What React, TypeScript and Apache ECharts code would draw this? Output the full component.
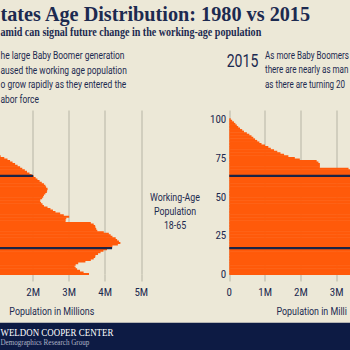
import React, { useEffect, useRef } from "react";
import * as echarts from "echarts";

// Ages 0..100 (single-year bars)
const AGES: number[] = Array.from({ length: 101 }, (_, i) => i);

// Population in millions, 1980, by single year of age (0..100)
const POP_1980: number[] = [
  3.55, 3.40, 3.30, 3.22, 3.18, 3.15, 3.18, 3.25, 3.45, 3.60,
  3.68, 3.72, 3.73, 3.80, 3.87, 3.95, 4.05, 4.15, 4.20, 4.35,
  4.42, 4.38, 4.33, 4.29, 4.20, 4.15, 4.10, 3.96, 3.78, 3.75,
  3.73, 3.72, 3.68, 3.60, 2.90, 2.90, 2.92, 3.00, 2.85, 2.75,
  2.62, 2.55, 2.48, 2.40, 2.30, 2.26, 2.22, 2.19, 2.20, 2.25,
  2.28, 2.30, 2.34, 2.38, 2.39, 2.40, 2.36, 2.34, 2.30, 2.24,
  2.18, 2.12, 2.07, 2.02, 1.96, 1.90, 1.83, 1.77, 1.70, 1.64,
  1.57, 1.50, 1.43, 1.36, 1.29, 1.20, 1.10, 1.00, 0.95, 0.88,
  0.80, 0.72, 0.65, 0.57, 0.50, 0.42, 0.36, 0.30, 0.25, 0.20,
  0.16, 0.13, 0.10, 0.08, 0.06, 0.05, 0.04, 0.03, 0.02, 0.015, 0.01,
];

// Population in millions, 2015, by single year of age (0..100)
const POP_2015: number[] = [
  3.98, 3.96, 3.97, 4.00, 4.03, 4.05, 4.07, 4.11, 4.12, 4.10,
  4.13, 4.12, 4.06, 4.09, 4.16, 4.18, 4.19, 4.22, 4.36, 4.48,
  4.57, 4.61, 4.59, 4.53, 4.49, 4.46, 4.39, 4.40, 4.37, 4.34,
  4.26, 4.15, 4.23, 4.20, 4.17, 4.06, 4.00, 3.96, 3.87, 3.86,
  3.87, 3.83, 3.91, 3.90, 4.04, 4.19, 4.21, 4.25, 4.31, 4.30,
  4.26, 4.30, 4.42, 4.47, 4.50, 4.46, 4.43, 4.35, 4.22, 4.10,
  3.98, 3.86, 3.76, 3.62, 3.60, 3.52, 3.48, 3.50, 3.33, 2.53,
  2.53, 2.53, 2.49, 2.44, 1.97, 1.83, 1.65, 1.53, 1.43, 1.34,
  1.25, 1.16, 1.09, 1.00, 0.90, 0.84, 0.78, 0.72, 0.67, 0.62,
  0.56, 0.49, 0.41, 0.36, 0.30, 0.25, 0.21, 0.17, 0.13, 0.08, 0.04,
];

// Working-age boundary lines (age position) and where they end (millions)
const LINE_AGES: number[] = [17, 63.7];
const LINE_END_1980: number[] = [4.19, 2.0];
const LINE_END_2015: number[] = [4.22, 3.6];

const X_TICKS_MAX = 5; // millions
const Y_MAX = 106;

const BG = "#ECE8D7";
const ORANGE = "#FF5A0A";
const NAVY = "#1c2a50";
const LINE_NAVY = "#1a2446";
const GRID = "#c9c6b6";
const FOOTER = "#0d1b44";
const COND = "'Liberation Sans Narrow', 'Roboto Condensed', Roboto, sans-serif";

function measure(text: string, font: string): number {
  const c = document.createElement("canvas").getContext("2d");
  if (!c) return text.length * 6;
  c.font = font;
  return c.measureText(text).width;
}

function txt(
  text: string,
  x: number,
  y: number,
  font: string,
  fill: string,
  align: string,
  scaleX: number
) {
  return {
    type: "text",
    x,
    y,
    scaleX,
    silent: true,
    style: {
      text,
      x: 0,
      y: 0,
      font,
      fill,
      align,
      textAlign: align,
      verticalAlign: "middle",
      textVerticalAlign: "middle",
    },
  };
}

export default function App() {
  const ref = useRef<HTMLDivElement>(null);

  useEffect(() => {
    document.body.style.margin = "0";
    document.body.style.background = BG;
    if (!ref.current) return;
    const chart = echarts.init(ref.current, undefined, { renderer: "svg" });

    const barItem = (color: string) => (params: any, api: any) => {
      const age = api.value(0);
      const v = api.value(1);
      const p0 = api.coord([0, age + 1]);
      const p1 = api.coord([v, age]);
      return {
        type: "rect",
        shape: { x: p0[0], y: p0[1], width: p1[0] - p0[0], height: p1[1] - p0[1] + 0.5 },
        style: { fill: color },
      };
    };

    const xAxis = (gridIndex: number, minLabel: number, maxLabel: number) => ({
      type: "value",
      gridIndex,
      min: 0,
      max: X_TICKS_MAX,
      interval: 1,
      axisLine: { show: false },
      axisTick: { show: true, length: 7, lineStyle: { color: GRID, width: 1.5 } },
      splitLine: { show: true, lineStyle: { color: GRID, width: 1.5 } },
      axisLabel: {
        color: NAVY,
        fontSize: 11,
        fontFamily: COND,
        margin: 12,
        formatter: (v: number) =>
          v < minLabel || v > maxLabel ? "" : v === 0 ? "0" : `${v}M`,
      },
    });

    const yAxis = (gridIndex: number, showLabels: boolean) => ({
      type: "value",
      gridIndex,
      min: 0,
      max: Y_MAX,
      interval: 25,
      axisLine: { show: false },
      axisTick: { show: false },
      splitLine: { show: false },
      axisLabel: {
        show: showLabels,
        color: NAVY,
        fontSize: 11,
        fontFamily: COND,
        margin: 3,
        showMaxLabel: false,
      },
    });

    const lineSeries = (idx: number, ends: number[]) =>
      LINE_AGES.map((age, i) => ({
        type: "line",
        xAxisIndex: idx,
        yAxisIndex: idx,
        data: [
          [0, age],
          [ends[i], age],
        ],
        symbol: "none",
        silent: true,
        z: 5,
        lineStyle: { color: LINE_NAVY, width: 2.2 },
      }));

    // text scaling (emulating the condensed fonts)
    const titleFont = "bold 21px 'Liberation Serif', serif";
    const titleText = "tates Age Distribution: 1980 vs 2015";
    const titleScale = 311 / measure(titleText, titleFont);
    const subFont = "bold 12px 'Liberation Serif', serif";
    const subText = "amid can signal future change in the working-age population";
    const subScale = 261 / measure(subText, subFont);
    const annFont = "11.5px Roboto, sans-serif";
    const annScale = 124 / measure("he large Baby Boomer generation", annFont);
    const rScale = 84 / measure("As more Baby Boomers", annFont);
    const bigFont = "19px Roboto, sans-serif";
    const bigScale = 31.6 / measure("2015", bigFont);
    const waScale = 50 / measure("Working-Age", annFont);
    const axFont = "11.5px Roboto, sans-serif";
    const axScale = 85 / measure("Population in Millions", axFont);
    const f1Font = "10px 'Liberation Serif', serif";
    const f1Scale = 113 / measure("WELDON COOPER CENTER", f1Font);
    const f2Font = "8px 'Liberation Serif', serif";
    const f2Scale = 89 / measure("Demographics Research Group", f2Font);

    const graphics: any[] = [
      txt(titleText, 0.5, 13.6, titleFont, NAVY, "left", titleScale),
      txt(subText, 0.5, 31.4, subFont, NAVY, "left", subScale),
      txt("he large Baby Boomer generation", 0.5, 55.1, annFont, NAVY, "left", annScale),
      txt("aused the working age population", 0.5, 69.8, annFont, NAVY, "left", annScale),
      txt("o grow rapidly as they entered the", 0.5, 84.5, annFont, NAVY, "left", annScale),
      txt("abor force", 0.5, 99.2, annFont, NAVY, "left", annScale),
      txt("2015", 226.7, 60.2, bigFont, NAVY, "left", bigScale),
      txt("As more Baby Boomers", 265, 54.6, annFont, NAVY, "left", rScale),
      txt("there are nearly as man", 265, 69.3, annFont, NAVY, "left", rScale),
      txt("as there are turning 20", 265, 84, annFont, NAVY, "left", rScale),
      txt("Working-Age", 175, 196.8, annFont, NAVY, "center", waScale),
      txt("Population", 175, 211.1, annFont, NAVY, "center", waScale),
      txt("18-65", 175, 225.4, annFont, NAVY, "center", waScale),
      txt("Population in Millions", 51.8, 311, axFont, NAVY, "center", axScale),
      txt("Population in Milli", 276.5, 311, axFont, NAVY, "left", axScale),
      {
        type: "rect",
        silent: true,
        shape: { x: 0, y: 322.7, width: 350, height: 28 },
        style: { fill: FOOTER },
      },
      txt("WELDON COOPER CENTER", 0.5, 333.3, f1Font, "#ffffff", "left", f1Scale),
      txt("Demographics Research Group", 0.5, 342.3, f2Font, "#aeb3c6", "left", f2Scale),
    ];

    chart.setOption({
      animation: false,
      backgroundColor: BG,
      grid: [
        { left: -39, right: 208.7, top: 110.5, bottom: 75.5, containLabel: false, outerBoundsMode: "none" },
        { left: 229.3, right: -58.3, top: 110.5, bottom: 75.5, containLabel: false, outerBoundsMode: "none" },
      ],
      xAxis: [xAxis(0, 2, 5), xAxis(1, 0, 3)],
      yAxis: [yAxis(0, false), yAxis(1, true)],
      series: [
        {
          type: "custom",
          xAxisIndex: 0,
          yAxisIndex: 0,
          silent: true,
          z: 2,
          encode: { x: 1, y: 0 },
          data: POP_1980.map((v, i) => [AGES[i], v]),
          renderItem: barItem(ORANGE),
        },
        {
          type: "custom",
          xAxisIndex: 1,
          yAxisIndex: 1,
          silent: true,
          z: 2,
          encode: { x: 1, y: 0 },
          data: POP_2015.map((v, i) => [AGES[i], v]),
          renderItem: barItem(ORANGE),
        },
        ...lineSeries(0, LINE_END_1980),
        ...lineSeries(1, LINE_END_2015),
      ],
      graphic: { elements: graphics },
    });

    return () => chart.dispose();
  }, []);

  return (
    <div
      ref={ref}
      style={{ position: "fixed", left: 0, top: 0, width: 350, height: 350, background: BG }}
    />
  );
}
